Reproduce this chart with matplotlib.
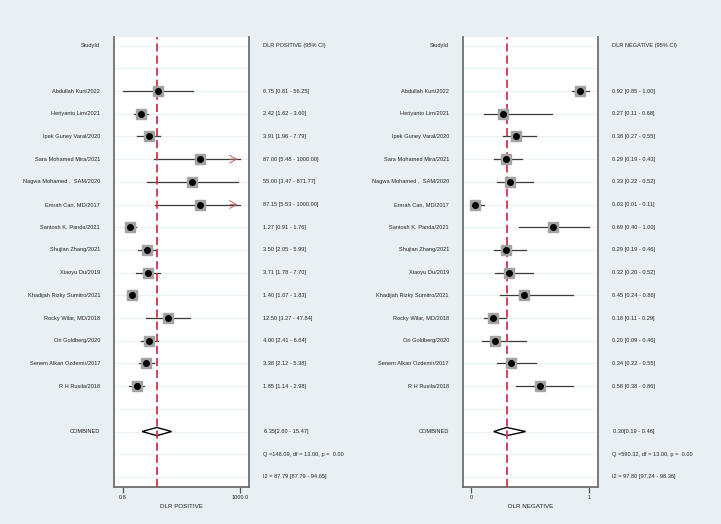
import numpy as np
import matplotlib
matplotlib.use("Agg")
import matplotlib.pyplot as plt
import matplotlib.transforms as mtrans
from matplotlib.patches import Polygon

plt.rcParams['font.family'] = ['Liberation Sans', 'DejaVu Sans']

# Study labels
studies = ["Abdullah Kurt/2022", "Heriyanto Lim/2021", "Ipek Guney Varal/2020",
           "Sara Mohamed Mira/2021", "Nagwa Mohamed ,  SAM/2020", "Emrah Can, MD/2017",
           "Santosh K. Panda/2021", "Shujian Zhang/2021", "Xiaoyu Du/2019",
           "Khadijah Rizky Sumitro/2021", "Rocky Wilar, MD/2018", "Ori Goldberg/2020",
           "Senem Alkan Ozdemir/2017", "R H Rusila/2018"]

# DLR positive
pos_est = [6.75, 2.42, 3.91, 87.00, 55.00, 87.15, 1.27, 3.50, 3.71, 1.40, 12.50, 4.00, 3.38, 1.85]
pos_lo = [0.81, 1.62, 1.96, 5.48, 3.47, 5.53, 0.91, 2.05, 1.78, 1.07, 3.27, 2.41, 2.12, 1.14]
pos_hi = [56.25, 3.60, 7.79, 1000.00, 871.77, 1000.00, 1.76, 5.99, 7.70, 1.83, 47.84, 6.64, 5.38, 2.98]
pos_comb = (6.35, 2.60, 15.47)
pos_q = "Q =148.09, df = 13.00, p =  0.00"
pos_i2 = "I2 = 87.79 [87.79 - 94.65]"

# DLR negative
neg_est = [0.92, 0.27, 0.38, 0.29, 0.33, 0.03, 0.69, 0.29, 0.32, 0.45, 0.18, 0.20, 0.34, 0.58]
neg_lo = [0.85, 0.11, 0.27, 0.19, 0.22, 0.01, 0.40, 0.19, 0.20, 0.24, 0.11, 0.09, 0.22, 0.38]
neg_hi = [1.00, 0.68, 0.55, 0.43, 0.52, 0.11, 1.00, 0.46, 0.52, 0.86, 0.29, 0.46, 0.55, 0.86]
neg_comb = (0.30, 0.19, 0.46)
neg_q = "Q =590.32, df = 13.00, p =  0.00"
neg_i2 = "I2 = 97.80 [97.24 - 98.36]"

W, H = 721, 524
bg = "#e9f0f3"
fig = plt.figure(figsize=(W / 100, H / 100), dpi=100, facecolor=bg)

red = "#d2344c"
fs = 4.1


def px(x0, y0, w, h):
    return [x0 / W, 1 - (y0 + h) / H, w / W, h / H]


def forest(rect, est, lo, hi, comb, qtxt, i2txt, header, xlabel, log, xlim, ticks, ticklabels,
           lab_x, txt_x, clip_hi=None):
    ax = fig.add_axes(px(*rect))
    ax.set_facecolor("white")
    if log:
        ax.set_xscale("log")
    ax.set_xlim(*xlim)
    ax.set_ylim(19.43, -0.38)
    nrow = 20
    for r in range(nrow):
        ax.axhline(r, color="#ebf2f4", lw=0.9, zorder=1)
    ax.axvline(comb[0], color=red, lw=1.3, ls=(0, (4.5, 2.2)), zorder=5)

    rows = np.arange(len(est)) + 2
    for y, e, l, h in zip(rows, est, lo, hi):
        ax.plot([l, h], [y, y], color="#3a3a3a", lw=0.9, zorder=3)
        if clip_hi is not None and h >= clip_hi:
            ax.annotate("", xy=(h, y), xytext=(h * 0.45, y),
                        arrowprops=dict(arrowstyle="->,head_length=0.5,head_width=0.28",
                                        color="#c0646a", lw=0.7), zorder=4)
        ax.plot(e, y, marker="s", ms=7, color="#a3a3a3", mec="#a3a3a3", zorder=6)
        ax.plot(e, y, marker="o", ms=4, color="black", zorder=7)

    cy = 17
    dh = 0.18
    dia = Polygon([[comb[1], cy], [comb[0], cy - dh], [comb[2], cy], [comb[0], cy + dh]],
                  closed=True, facecolor="white", edgecolor="black", lw=1.0, zorder=4)
    ax.add_patch(dia)

    ax.spines["top"].set_visible(False)
    for s in ["left", "right", "bottom"]:
        ax.spines[s].set_color("#6e6e6e")
        ax.spines[s].set_linewidth(1.3)
    ax.set_yticks([])
    ax.minorticks_off()
    ax.set_xticks(ticks)
    ax.set_xticklabels(ticklabels, fontsize=fs)
    ax.tick_params(axis="x", length=4, width=0.9, color="#555555", pad=2, labelcolor="#222222")
    ax.set_xlabel(xlabel, fontsize=4.5, labelpad=3, color="#222222")

    tr = mtrans.blended_transform_factory(fig.transFigure, ax.transData)
    kw = dict(fontsize=fs, va="center", color="#222222", transform=tr)
    ax.text(lab_x / W, 0, "StudyId", ha="right", **kw)
    ax.text(txt_x / W, 0, header, ha="left", **kw)
    for y, name, e, l, h in zip(rows, studies, est, lo, hi):
        ax.text(lab_x / W, y, name, ha="right", **kw)
        ax.text(txt_x / W, y, "%.2f [%.2f - %.2f]" % (e, l, h), ha="left", **kw)
    ax.text(lab_x / W, cy, "COMBINED", ha="right", **kw)
    ax.text((txt_x + 1) / W, cy, "%.2f[%.2f - %.2f]" % comb, ha="left", **kw)
    ax.text(txt_x / W, 18, qtxt, ha="left", **kw)
    ax.text(txt_x / W, 19, i2txt, ha="left", **kw)
    return ax


forest((114, 37, 135, 449.7), pos_est, pos_lo, pos_hi, pos_comb, pos_q, pos_i2,
       "DLR POSITIVE (95% CI)", "DLR POSITIVE", True, (0.472, 1694), [0.8, 1000],
       ["0.8", "1000.0"], 100, 262.7, clip_hi=1000)
forest((462.7, 37, 135, 449.7), neg_est, neg_lo, neg_hi, neg_comb, neg_q, neg_i2,
       "DLR NEGATIVE (95% CI)", "DLR NEGATIVE", False, (-0.073, 1.071), [0, 1],
       ["0", "1"], 449, 611.7)

fig.savefig("out.png", dpi=100, facecolor=bg)
